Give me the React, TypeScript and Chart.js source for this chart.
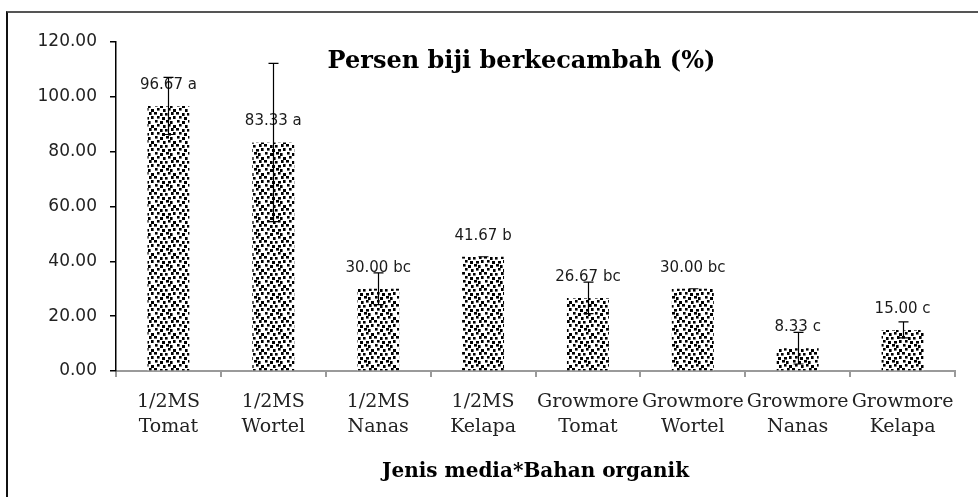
import React, { useEffect, useRef } from "react";
import { Chart, registerables } from "chart.js";

Chart.register(...registerables);

const categories: string[][] = [
  ["1/2MS", "Tomat"],
  ["1/2MS", "Wortel"],
  ["1/2MS", "Nanas"],
  ["1/2MS", "Kelapa"],
  ["Growmore", "Tomat"],
  ["Growmore", "Wortel"],
  ["Growmore", "Nanas"],
  ["Growmore", "Kelapa"],
];
const values = [96.67, 83.33, 30.0, 41.67, 26.67, 30.0, 8.33, 15.0];
const errors = [10.41, 28.87, 5.77, 0, 5.77, 0, 5.77, 2.89];
const letters = ["a", "a", "bc", "b", "bc", "bc", "c", "c"];
const yTicks = [0, 20, 40, 60, 80, 100, 120];
const chartTitle = "Persen biji berkecambah (%)";
const xTitle = "Jenis media*Bahan organik";

function makePattern(): CanvasPattern | string {
  const tile = document.createElement("canvas");
  tile.width = 22;
  tile.height = 16;
  const c = tile.getContext("2d");
  if (!c) return "#555";
  c.fillStyle = "#ffffff";
  c.fillRect(0, 0, 22, 16);
  c.fillStyle = "#000000";
  const dots = [
    [0, 0], [6, 1], [3, 4], [8, 5],
    [11, 1], [17, 0], [14, 5], [19, 4],
    [1, 8], [6, 9], [3, 12], [9, 13],
    [12, 8], [16, 9], [14, 12], [19, 13],
  ];
  dots.forEach(([x, y], i) => c.fillRect(x, y, i % 3 === 0 ? 3 : 2.6, i % 2 === 0 ? 2.6 : 3));
  const ctx = document.createElement("canvas").getContext("2d");
  const p = ctx ? ctx.createPattern(tile, "repeat") : null;
  return p || "#555";
}

const labelPlugin = {
  id: "valueLabels",
  afterDatasetsDraw(chart: any) {
    const ctx = chart.ctx;
    const meta = chart.getDatasetMeta(0);
    const ys = chart.scales.y;
    ctx.save();
    ctx.font = "15px 'DejaVu Sans'";
    ctx.fillStyle = "#1a1a1a";
    ctx.textAlign = "center";
    ctx.textBaseline = "middle";
    meta.data.forEach((bar: any, i: number) => {
      const top = ys.getPixelForValue(values[i]);
      ctx.fillText(`${values[i].toFixed(2)} ${letters[i]}`, bar.x, top - 21);
    });
    ctx.strokeStyle = "#000";
    ctx.lineWidth = 1.2;
    meta.data.forEach((bar: any, i: number) => {
      const hi = ys.getPixelForValue(values[i] + errors[i]);
      const lo = ys.getPixelForValue(values[i] - errors[i]);
      const x = Math.round(bar.x) + 0.5;
      ctx.beginPath();
      ctx.moveTo(x, hi);
      ctx.lineTo(x, lo);
      ctx.moveTo(x - 5, hi);
      ctx.lineTo(x + 5, hi);
      ctx.moveTo(x - 5, lo);
      ctx.lineTo(x + 5, lo);
      ctx.stroke();
    });
    ctx.restore();
  },
};

const titlePlugin = {
  id: "innerTitle",
  afterDraw(chart: any) {
    const ctx = chart.ctx;
    const ca = chart.chartArea;
    ctx.save();
    ctx.font = "bold 24px 'DejaVu Serif'";
    ctx.fillStyle = "#000";
    ctx.textAlign = "center";
    ctx.textBaseline = "middle";
    ctx.fillText(chartTitle, (ca.left + ca.right) / 2 - 14, ca.top + 20);
    ctx.restore();
  },
};

export default function App() {
  const ref = useRef<HTMLCanvasElement | null>(null);
  useEffect(() => {
    if (!ref.current) return;
    const pattern = makePattern();
    const chart = new Chart(ref.current, {
      type: "bar",
      data: {
        labels: categories,
        datasets: [
          {
            data: values,
            backgroundColor: pattern as any,
            borderWidth: 0,
            categoryPercentage: 1,
            barPercentage: 0.4,
          },
        ],
      },
      options: {
        animation: false,
        responsive: false,
        devicePixelRatio: 1,
        layout: { padding: { left: 0, right: 23, top: 42, bottom: 0 } },
        plugins: {
          legend: { display: false },
          tooltip: { enabled: false },
          title: { display: false },
        },
        scales: {
          x: {
            type: "category",
            offset: true,
            grid: {
              display: true,
              offset: true,
              drawOnChartArea: false,
              drawTicks: true,
              tickLength: 6,
              color: "#9a9a9a",
              lineWidth: 2,
            },
            border: { display: true, color: "#9a9a9a", width: 2 },
            ticks: {
              autoSkip: false,
              maxRotation: 0,
              minRotation: 0,
              padding: 13,
              color: "#222",
              font: { family: "'DejaVu Serif'", size: 19, lineHeight: 25 / 19 },
            },
            title: {
              display: true,
              text: xTitle,
              color: "#000",
              font: { family: "'DejaVu Serif'", size: 20, weight: "bold", lineHeight: 1.2 },
              padding: { top: 0, bottom: 13 },
            },
            afterFit: (s: any) => {
              s.height = 126;
            },
          },
          y: {
            min: 0,
            max: 120,
            grid: {
              display: true,
              drawOnChartArea: false,
              drawTicks: true,
              tickLength: 6,
              color: "#000",
              lineWidth: 1.5,
            },
            border: { display: true, color: "#000", width: 1.5 },
            afterBuildTicks: (s: any) => {
              s.ticks = yTicks.map((v) => ({ value: v }));
            },
            ticks: {
              padding: 13,
              color: "#222",
              font: { family: "'DejaVu Sans'", size: 17 },
              callback: (v: any) => Number(v).toFixed(2),
            },
            afterFit: (s: any) => {
              s.width = 116;
            },
          },
        },
      },
      plugins: [labelPlugin, titlePlugin],
    });
    return () => chart.destroy();
  }, []);

  return (
    <div style={{ position: "fixed", left: 0, top: 0, width: 978, height: 497, overflow: "hidden", background: "#fff" }}>
      <div
        style={{
          position: "absolute",
          left: 6,
          top: 11,
          width: 1000,
          height: 600,
          borderTop: "2px solid #555",
          borderLeft: "2px solid #111",
        }}
      />
      <canvas ref={ref} width={978} height={497} style={{ position: "absolute", left: 0, top: 0, width: 978, height: 497 }} />
    </div>
  );
}
